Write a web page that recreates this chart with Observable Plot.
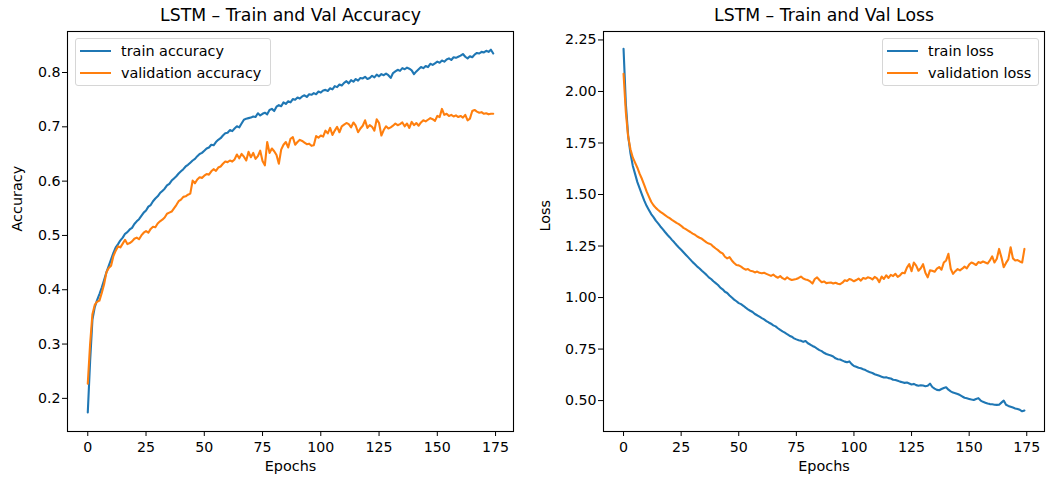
<!DOCTYPE html>
<html>
<head>
<meta charset="utf-8">
<script src="https://cdn.jsdelivr.net/npm/d3@7"></script>
<script src="https://cdn.jsdelivr.net/npm/@observablehq/plot@0.6"></script>
<style>
  html, body { margin: 0; padding: 0; background: white; }
  #wrap { position: relative; width: 1047px; height: 480px; font-family: "DejaVu Sans", sans-serif; }
  #wrap > svg, #wrap > figure { position: absolute; top: 0; margin: 0; }
  .legend { position: absolute; background: rgba(255,255,255,0.8); border: 1px solid #d6d6d6; border-radius: 3px; box-sizing: border-box; font-size: 14.4px; color: #000; }
  .legend .row { position: absolute; height: 20px; line-height: 20px; white-space: nowrap; }
  .legend .sw { position: absolute; top: 9px; height: 2.1px; width: 31px; }
  .legend .lb { position: absolute; top: 0; }
</style>
</head>
<body>
<div id="wrap"></div>
<script>
// ---- data ----
const xTicks = [0, 25, 50, 75, 100, 125, 150, 175];
const accTicks = [0.2, 0.3, 0.4, 0.5, 0.6, 0.7, 0.8];
const lossTicks = [0.5, 0.75, 1.0, 1.25, 1.5, 1.75, 2.0, 2.25];

const trainAcc = [
.174,.268,.345,.368,.381,.392,.404,.418,.432,.444,
.456,.468,.478,.484,.491,.496,.503,.506,.511,.514,
.521,.526,.53,.536,.542,.546,.553,.556,.563,.568,
.572,.578,.582,.586,.592,.595,.601,.605,.609,.614,
.618,.622,.627,.63,.634,.638,.641,.646,.65,.652,
.656,.66,.662,.667,.666,.672,.676,.679,.684,.688,
.689,.694,.692,.697,.701,.699,.706,.713,.715,.716,
.717,.719,.718,.725,.721,.724,.726,.723,.731,.733,
.729,.737,.74,.738,.745,.742,.747,.745,.751,.75,
.754,.752,.756,.758,.755,.76,.759,.762,.76,.765,
.763,.767,.768,.766,.771,.769,.775,.773,.778,.776,
.781,.784,.78,.786,.783,.788,.785,.79,.789,.792,
.788,.79,.794,.791,.796,.793,.797,.795,.798,.795,
.79,.799,.802,.805,.803,.808,.806,.809,.807,.804,
.797,.802,.806,.81,.808,.812,.81,.816,.814,.817,
.82,.818,.822,.82,.824,.826,.823,.828,.827,.829,
.831,.834,.829,.826,.83,.828,.833,.836,.835,.838,
.837,.84,.838,.842,.835];

const valAcc = [
.227,.30,.355,.372,.378,.38,.394,.41,.432,.44,
.444,.462,.472,.48,.478,.485,.492,.484,.486,.489,
.494,.496,.493,.5,.505,.508,.505,.512,.516,.515,
.522,.526,.529,.533,.54,.542,.544,.55,.556,.563,
.566,.571,.572,.575,.577,.601,.596,.603,.607,.606,
.61,.613,.612,.618,.622,.619,.625,.627,.632,.636,
.635,.638,.636,.64,.649,.642,.65,.645,.638,.654,
.644,.652,.641,.646,.656,.637,.629,.672,.652,.66,
.655,.648,.632,.658,.667,.672,.662,.678,.681,.667,
.672,.676,.674,.671,.668,.669,.665,.666,.683,.68,
.684,.682,.693,.688,.698,.685,.693,.7,.69,.701,
.704,.707,.705,.699,.708,.702,.69,.697,.702,.712,
.698,.703,.7,.693,.714,.707,.684,.694,.701,.697,
.699,.702,.706,.703,.705,.708,.701,.706,.698,.709,
.703,.707,.702,.708,.712,.71,.713,.716,.714,.711,
.72,.718,.733,.722,.724,.72,.722,.719,.721,.718,
.72,.717,.722,.712,.715,.729,.731,.728,.726,.727,
.724,.725,.723,.724,.724];

const trainLoss = [
2.207,1.94,1.786,1.7,1.64,1.6,1.56,1.53,1.5,1.47,
1.445,1.425,1.405,1.39,1.373,1.36,1.345,1.332,1.318,1.305,
1.293,1.28,1.268,1.255,1.243,1.232,1.22,1.208,1.196,1.184,
1.172,1.162,1.15,1.141,1.13,1.12,1.11,1.098,1.09,1.079,
1.07,1.061,1.048,1.04,1.028,1.022,1.01,1.0,0.99,0.982,
0.973,0.968,0.96,0.951,0.943,0.936,0.93,0.92,0.914,0.907,
0.9,0.894,0.886,0.879,0.873,0.865,0.86,0.851,0.843,0.836,
0.83,0.822,0.815,0.81,0.802,0.797,0.793,0.79,0.785,0.789,
0.778,0.772,0.765,0.76,0.752,0.745,0.74,0.732,0.726,0.722,
0.719,0.714,0.705,0.701,0.699,0.694,0.689,0.686,0.69,0.677,
0.668,0.664,0.659,0.657,0.652,0.648,0.642,0.637,0.634,0.628,
0.624,0.62,0.616,0.612,0.613,0.609,0.607,0.601,0.6,0.596,
0.592,0.589,0.586,0.588,0.583,0.578,0.581,0.575,0.572,0.574,
0.573,0.57,0.572,0.582,0.566,0.558,0.552,0.55,0.556,0.561,
0.565,0.553,0.545,0.539,0.536,0.532,0.527,0.52,0.514,0.511,
0.508,0.505,0.503,0.508,0.512,0.5,0.494,0.49,0.486,0.483,
0.482,0.48,0.479,0.48,0.49,0.5,0.48,0.474,0.47,0.466,
0.462,0.459,0.455,0.448,0.452];

const valLoss = [
2.086,1.9,1.78,1.72,1.68,1.655,1.63,1.6,1.575,1.545,
1.515,1.49,1.465,1.448,1.435,1.425,1.416,1.408,1.4,1.392,
1.385,1.377,1.37,1.362,1.356,1.348,1.338,1.332,1.325,1.318,
1.31,1.305,1.296,1.29,1.285,1.276,1.268,1.262,1.258,1.247,
1.238,1.23,1.22,1.214,1.198,1.19,1.196,1.18,1.168,1.158,
1.156,1.15,1.142,1.135,1.138,1.13,1.128,1.122,1.126,1.12,
1.118,1.12,1.115,1.11,1.105,1.111,1.102,1.096,1.104,1.094,
1.088,1.098,1.09,1.085,1.088,1.09,1.095,1.102,1.092,1.088,
1.085,1.078,1.068,1.09,1.098,1.085,1.074,1.078,1.07,1.072,
1.073,1.068,1.072,1.067,1.065,1.072,1.084,1.08,1.09,1.086,
1.079,1.085,1.092,1.082,1.095,1.091,1.098,1.095,1.088,1.1,
1.093,1.075,1.102,1.09,1.108,1.095,1.11,1.104,1.115,1.1,
1.108,1.12,1.118,1.145,1.162,1.128,1.17,1.155,1.13,1.142,
1.162,1.12,1.098,1.132,1.13,1.125,1.14,1.148,1.135,1.17,
1.18,1.212,1.14,1.115,1.128,1.138,1.132,1.14,1.15,1.142,
1.16,1.17,1.165,1.158,1.172,1.168,1.175,1.17,1.165,1.18,
1.2,1.17,1.188,1.236,1.195,1.147,1.168,1.185,1.244,1.19,
1.18,1.182,1.175,1.17,1.236];

const BLUE = "#1f77b4", ORANGE = "#ff7f0e";

function panel(o) {
  return Plot.plot({
    width: o.width, height: 480,
    marginLeft: o.marginLeft, marginRight: o.marginRight, marginTop: 31, marginBottom: 49,
    style: {fontFamily: "DejaVu Sans", fontSize: "14.2px", color: "black", background: "white", overflow: "visible"},
    x: {domain: [-8.7, 182.7], ticks: xTicks, tickFormat: d => String(d), label: null, tickSize: 5, tickPadding: 5},
    y: {domain: o.yDomain, ticks: o.yTicks, tickFormat: o.fmt, label: null, tickSize: 5, tickPadding: 2},
    marks: [
      Plot.lineY(o.a, {x: (d, i) => i, y: d => d, stroke: BLUE, strokeWidth: 2.1}),
      Plot.lineY(o.b, {x: (d, i) => i, y: d => d, stroke: ORANGE, strokeWidth: 2.1}),
      Plot.frame({stroke: "black", strokeWidth: 1.1}),
      Plot.text([o.title], {text: d => d, frameAnchor: "top", lineAnchor: "middle", dy: -16, fontSize: 17.3, fill: "black"}),
      Plot.text(["Epochs"], {text: d => d, frameAnchor: "bottom", lineAnchor: "middle", dy: 35, fontSize: 14.4, fill: "black"}),
      Plot.text([o.ylabel], {text: d => d, frameAnchor: "left", lineAnchor: "middle", dx: o.ylabelDx, rotate: -90, fontSize: 14.4, fill: "black"})
    ]
  });
}

const wrap = document.getElementById("wrap");
const left = panel({width: 520, marginLeft: 67, marginRight: 7, yDomain: [0.139, 0.8755], yTicks: accTicks,
  fmt: d3.format(".1f"), a: trainAcc, b: valAcc, title: "LSTM – Train and Val Accuracy", ylabel: "Accuracy", ylabelDx: -50});
left.style.left = "0px";
wrap.appendChild(left);

const right = panel({width: 527, marginLeft: 83, marginRight: 3, yDomain: [0.35, 2.291], yTicks: lossTicks,
  fmt: d3.format(".2f"), a: trainLoss, b: valLoss, title: "LSTM – Train and Val Loss", ylabel: "Loss", ylabelDx: -58});
right.style.left = "520px";
wrap.appendChild(right);

function legend(x, y, w, items) {
  const div = document.createElement("div");
  div.className = "legend";
  Object.assign(div.style, {left: x + "px", top: y + "px", width: w + "px", height: "48px"});
  items.forEach((it, k) => {
    const row = document.createElement("div");
    row.className = "row";
    row.style.top = (2 + k * 22) + "px";
    row.style.left = "0px";
    row.innerHTML = `<span class="sw" style="left:4px;background:${it.color}"></span><span class="lb" style="left:45px">${it.label}</span>`;
    div.appendChild(row);
  });
  wrap.appendChild(div);
}
legend(75, 38, 196, [{label: "train accuracy", color: BLUE}, {label: "validation accuracy", color: ORANGE}]);
legend(882, 38, 157, [{label: "train loss", color: BLUE}, {label: "validation loss", color: ORANGE}]);
</script>
</body>
</html>
